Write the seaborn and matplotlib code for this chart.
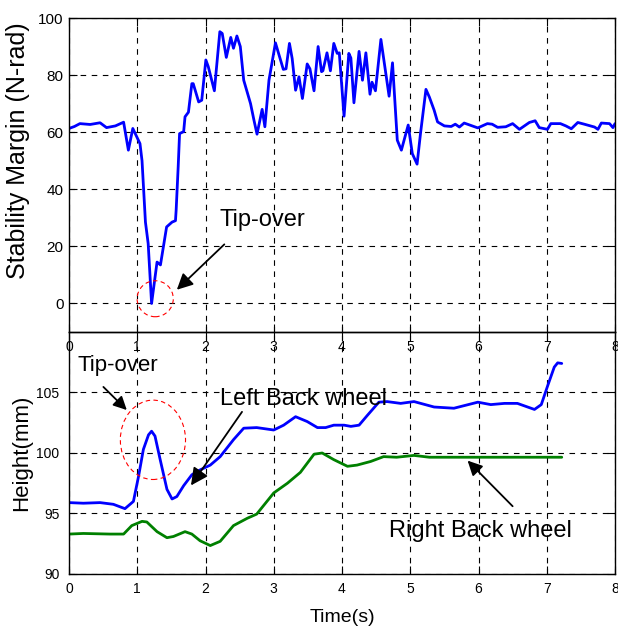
import pandas as pd
import matplotlib
matplotlib.use("Agg")
import matplotlib.pyplot as plt
from matplotlib.patches import Ellipse
import seaborn as sns

# =============================================================================
# DATA
# =============================================================================
margin_time = [0.00, 0.08, 0.16, 0.31, 0.455, 0.55, 0.68, 0.80, 0.87, 0.935,
               1.04, 1.07, 1.12, 1.16, 1.21, 1.29, 1.34, 1.43, 1.51, 1.56,
               1.57, 1.60, 1.62, 1.68, 1.70, 1.75, 1.80, 1.82, 1.90, 1.945,
               2.005, 2.04, 2.13, 2.21, 2.245, 2.305, 2.37, 2.41, 2.46, 2.51,
               2.56, 2.66, 2.71, 2.755, 2.83, 2.87, 2.93, 3.025, 3.14, 3.18,
               3.23, 3.27, 3.32, 3.37, 3.42, 3.49, 3.53, 3.59, 3.65, 3.70,
               3.72, 3.78, 3.83, 3.88, 3.93, 3.96, 4.03, 4.10, 4.13, 4.175,
               4.25, 4.30, 4.35, 4.41, 4.44, 4.49, 4.57, 4.69, 4.74, 4.81,
               4.87, 4.97, 5.03, 5.10, 5.15, 5.23, 5.28, 5.35, 5.40, 5.50,
               5.60, 5.66, 5.72, 5.79, 5.99, 6.13, 6.20, 6.28, 6.40, 6.50,
               6.60, 6.745, 6.83, 6.89, 7.01, 7.06, 7.20, 7.28, 7.36, 7.455,
               7.55, 7.70, 7.75, 7.80, 7.92, 7.97, 8.00]
margin_value = [61.3, 62.0, 63.0, 62.7, 63.3, 61.6, 62.2, 63.5, 53.7, 61.3,
                56.0, 50.0, 28.5, 21.0, 0.0, 14.5, 13.5, 26.8, 28.5, 29.0,
                32.7, 48.0, 59.5, 60.2, 65.4, 67.0, 77.0, 77.0, 70.6, 71.2,
                85.3, 83.0, 74.5, 95.2, 94.6, 86.2, 93.2, 89.4, 93.7, 90.0,
                78.2, 70.0, 64.2, 59.3, 68.0, 61.9, 78.2, 91.3, 82.0, 82.2,
                91.1, 85.8, 74.7, 79.4, 71.8, 83.9, 82.2, 74.5, 90.0, 81.2,
                81.5, 87.8, 81.5, 91.1, 87.6, 87.8, 65.6, 87.6, 86.0, 70.3,
                88.3, 78.2, 87.8, 73.3, 77.5, 74.5, 92.5, 72.6, 84.3, 57.2,
                53.7, 62.5, 52.5, 48.8, 59.5, 75.0, 72.3, 67.7, 63.6, 62.2,
                62.0, 62.8, 61.8, 63.2, 61.5, 63.0, 62.8, 61.7, 61.9, 63.0,
                61.0, 63.4, 64.0, 61.6, 61.0, 63.0, 63.0, 62.2, 61.2, 63.4,
                62.8, 61.8, 61.0, 63.2, 63.0, 61.6, 63.0]

left_time = [0.00, 0.21, 0.455, 0.65, 0.82, 0.944, 1.02, 1.09, 1.165, 1.21,
             1.26, 1.336, 1.435, 1.51, 1.58, 1.68, 1.80, 1.92, 2.07, 2.215,
             2.41, 2.56, 2.75, 3.00, 3.145, 3.32, 3.49, 3.64, 3.76, 3.88,
             4.03, 4.13, 4.25, 4.37, 4.54, 4.66, 4.86, 5.055, 5.35, 5.64,
             5.99, 6.18, 6.38, 6.57, 6.82, 6.92, 7.01, 7.11, 7.16, 7.22]
left_height = [95.9, 95.85, 95.9, 95.76, 95.4, 96.0, 98.1, 100.3, 101.5, 101.8,
               101.4, 99.45, 97.0, 96.2, 96.4, 97.3, 98.2, 98.6, 99.0, 99.7,
               101.1, 102.05, 102.1, 101.9, 102.3, 103.0, 102.6, 102.1, 102.1, 102.3,
               102.3, 102.2, 102.3, 103.1, 104.2, 104.25, 104.1, 104.25, 103.8, 103.7,
               104.2, 104.0, 104.1, 104.1, 103.6, 104.0, 105.5, 107.1, 107.45, 107.4]

right_time = [0.00, 0.21, 0.60, 0.80, 0.92, 1.07, 1.14, 1.29, 1.435, 1.53,
              1.70, 1.80, 1.92, 2.07, 2.215, 2.41, 2.61, 2.75, 3.00, 3.20,
              3.39, 3.59, 3.71, 3.88, 4.08, 4.22, 4.42, 4.61, 4.80, 5.055,
              5.28, 7.22]
right_height = [93.3, 93.35, 93.3, 93.3, 94.0, 94.35, 94.3, 93.5, 93.0, 93.1,
                93.5, 93.3, 92.75, 92.35, 92.7, 94.0, 94.6, 94.95, 96.7, 97.5,
                98.4, 99.9, 100.0, 99.45, 98.9, 99.0, 99.3, 99.7, 99.65, 99.8,
                99.65, 99.65]

x_ticks = [0, 1, 2, 3, 4, 5, 6, 7, 8]
margin_ticks = [0, 20, 40, 60, 80, 100]
height_ticks = [90, 95, 100, 105]


# =============================================================================
# PLOT
# =============================================================================
def style_axes(ax, label_size):
    ax.grid(True, color="black", linestyle=(0, (5, 5)), linewidth=0.8)
    ax.tick_params(direction="in", top=True, right=True, length=5.5, width=0.8,
                   labelsize=label_size, colors="black")
    for sp in ax.spines.values():
        sp.set_visible(True)
        sp.set_color("black")
        sp.set_linewidth(1.0)


def main():
    sns.set_style("ticks")
    plt.rcParams["font.family"] = ["Liberation Sans", "DejaVu Sans"]
    plt.rcParams["text.color"] = "black"
    plt.rcParams["axes.labelcolor"] = "black"

    margin_df = pd.DataFrame({"t": margin_time, "v": margin_value})
    left_df = pd.DataFrame({"t": left_time, "v": left_height})
    right_df = pd.DataFrame({"t": right_time, "v": right_height})

    fig = plt.figure(figsize=(6.18, 6.31), dpi=100)
    ax1 = fig.add_axes([69 / 618, 1 - 332 / 631, 546 / 618, 314 / 631])
    ax2 = fig.add_axes([69 / 618, 1 - 574 / 631, 546 / 618, 242 / 631])
    ax2.set_facecolor("none")

    # Top panel: stability margin
    sns.lineplot(data=margin_df, x="t", y="v", ax=ax1, color="#0000ff",
                 linewidth=2.0, sort=False, estimator=None)
    ax1.set_xlim(0, 8)
    ax1.set_ylim(-10, 100)
    ax1.set_xticks(x_ticks)
    ax1.set_yticks(margin_ticks)
    style_axes(ax1, 11)
    ax1.tick_params(axis="x", labelsize=10, pad=5.5)
    ax1.tick_params(axis="y", pad=4)
    ax1.set_xlabel("")
    ax1.set_ylabel("Stability Margin (N-rad)", fontsize=18)
    ax1.yaxis.set_label_coords(-0.071, 0.576)

    ax1.add_patch(Ellipse((1.263, 1.65), 0.53, 12.6, fill=False, edgecolor="red",
                          linestyle=(0, (4, 3)), linewidth=0.8, zorder=5))
    ax1.text(2.21, 29.1, "Tip-over", fontsize=17, ha="left", va="center")
    ax1.annotate("", xy=(1.58, 4.8), xytext=(2.276, 20.7),
                 arrowprops=dict(arrowstyle="-|>", color="black", lw=1.3,
                                 mutation_scale=24, shrinkA=0, shrinkB=0))

    # Bottom panel: wheel heights
    sns.lineplot(data=left_df, x="t", y="v", ax=ax2, color="#0000ff",
                 linewidth=2.0, sort=False, estimator=None)
    sns.lineplot(data=right_df, x="t", y="v", ax=ax2, color="#008000",
                 linewidth=2.0, sort=False, estimator=None)
    ax2.set_xlim(0, 8)
    ax2.set_ylim(90, 110)
    ax2.set_xticks(x_ticks)
    ax2.set_yticks(height_ticks)
    style_axes(ax2, 10)
    ax2.tick_params(axis="x", pad=6)
    ax2.tick_params(axis="y", pad=7)
    ax2.set_xlabel("Time(s)", fontsize=14, labelpad=9)
    ax2.set_ylabel("Height(mm)", fontsize=16, labelpad=3)

    ax2.add_patch(Ellipse((1.23, 101.09), 0.955, 6.56, fill=False, edgecolor="red",
                          linestyle=(0, (4, 3)), linewidth=0.8, zorder=5))
    ax2.text(0.13, 107.24, "Tip-over", fontsize=16, ha="left", va="center")
    ax2.annotate("", xy=(0.847, 103.55), xytext=(0.504, 105.46),
                 arrowprops=dict(arrowstyle="-|>", color="black", lw=1.3,
                                 mutation_scale=20, shrinkA=0, shrinkB=0))
    ax2.text(2.217, 104.5, "Left Back wheel", fontsize=17, ha="left", va="center")
    ax2.annotate("", xy=(1.787, 97.32), xytext=(2.535, 103.4),
                 arrowprops=dict(arrowstyle="-|>", color="black", lw=1.3,
                                 mutation_scale=26, shrinkA=0, shrinkB=0))
    ax2.text(4.69, 93.57, "Right Back wheel", fontsize=17, ha="left", va="center")
    ax2.annotate("", xy=(5.84, 99.37), xytext=(6.5, 95.6),
                 arrowprops=dict(arrowstyle="-|>", color="black", lw=1.3,
                                 mutation_scale=22, shrinkA=0, shrinkB=0))

    fig.savefig("out.png", dpi=100, facecolor="white")
    plt.close(fig)


if __name__ == "__main__":
    main()
